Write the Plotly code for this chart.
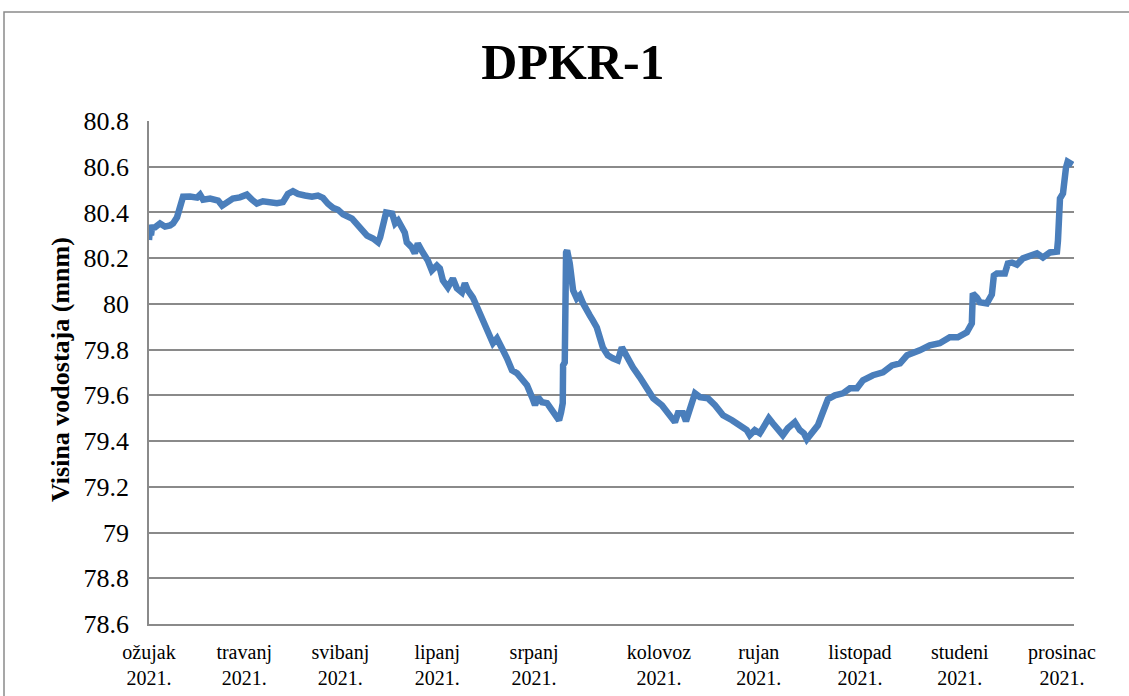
import plotly.graph_objects as go

# Day index from start of record (axis units)
dan = [
    0, 0.3, 0.6, 0.9, 1.8, 3.3, 4.8, 6.3, 7.2, 8.4,
    9.3, 10.2, 12.3, 14.4, 15.3, 16.2, 18.3, 20.7, 21.9, 23.4,
    25.1, 27.2, 29.3, 30.8, 32.3, 34.1, 36.2, 38.3, 40.1, 41.6,
    43.1, 44.6, 46.7, 48.8, 50.6, 52.1, 53.6, 55.1, 56.6, 57.2,
    58.1, 60.8, 63.2, 65.3, 67.1, 68.6, 69.2, 70.1, 71.0, 72.8,
    73.7, 74.6, 75.7, 76.6, 77.2, 78.7, 79.6, 80.5, 82.0, 83.5,
    84.7, 86.2, 87.1, 88.0, 89.5, 91.0, 92.2, 93.7, 94.6, 95.5,
    97.0, 98.5, 100.0, 101.2, 102.1, 103.0, 104.2, 105.1, 106.0, 107.2,
    108.7, 110.2, 111.7, 113.2, 114.7, 115.6, 116.5, 117.7, 119.2, 120.7,
    122.2, 122.8, 123.4, 123.9, 124.0, 124.5, 124.9, 125.2, 126.0, 127.0,
    128.1, 129.0, 130.0, 131.1, 132.0, 132.9, 134.1, 135.9, 137.4, 138.9,
    140.4, 141.6, 143.1, 144.9, 147.0, 149.1, 151.0, 153.6, 155.4, 157.5,
    158.4, 159.9, 160.8, 161.9, 163.5, 165.0, 167.4, 169.5, 171.9, 174.6,
    176.9, 179.0, 179.9, 181.4, 182.9, 184.4, 185.6, 186.8, 188.3, 189.8,
    191.3, 193.4, 194.9, 196.1, 197.0, 198.5, 200.3, 201.8, 203.3, 205.4,
    207.8, 209.9, 212.0, 213.8, 216.8, 219.8, 222.5, 224.9, 227.0, 230.8,
    233.8, 236.8, 239.8, 242.2, 244.9, 246.4, 246.7, 247.9, 248.8, 250.9,
    252.4, 253.0, 253.9, 256.3, 257.2, 258.4, 259.9, 261.7, 263.8, 265.9,
    267.7, 269.8, 271.9, 272.2, 272.8, 273.7, 274.6, 275.1, 276.6,
]

# Water level (m a.s.l.)
vodostaj = [
    80.28, 80.33, 80.30, 80.334, 80.335, 80.352, 80.338, 80.343, 80.352, 80.379,
    80.417, 80.469, 80.470, 80.465, 80.478, 80.456, 80.461, 80.452, 80.430, 80.445,
    80.461, 80.466, 80.478, 80.456, 80.439, 80.449, 80.445, 80.440, 80.445, 80.481,
    80.493, 80.481, 80.474, 80.469, 80.474, 80.464, 80.438, 80.420, 80.412, 80.400,
    80.392, 80.373, 80.334, 80.299, 80.286, 80.269, 80.290, 80.365, 80.400, 80.395,
    80.352, 80.365, 80.330, 80.312, 80.269, 80.247, 80.221, 80.264, 80.225, 80.190,
    80.146, 80.168, 80.155, 80.103, 80.072, 80.111, 80.068, 80.050, 80.090, 80.059,
    80.028, 79.980, 79.937, 79.897, 79.862, 79.828, 79.849, 79.828, 79.797, 79.762,
    79.710, 79.697, 79.675, 79.644, 79.592, 79.557, 79.592, 79.570, 79.566, 79.535,
    79.504, 79.491, 79.526, 79.566, 79.731, 79.744, 80.225, 80.234, 80.177, 80.059,
    80.024, 80.037, 80.002, 79.980, 79.950, 79.928, 79.897, 79.810, 79.775, 79.762,
    79.753, 79.810, 79.766, 79.723, 79.679, 79.631, 79.587, 79.557, 79.522, 79.483,
    79.522, 79.522, 79.487, 79.535, 79.609, 79.592, 79.587, 79.557, 79.513, 79.491,
    79.469, 79.448, 79.426, 79.448, 79.434, 79.469, 79.500, 79.478, 79.448, 79.426,
    79.456, 79.483, 79.448, 79.434, 79.408, 79.434, 79.469, 79.526, 79.583, 79.600,
    79.609, 79.631, 79.631, 79.666, 79.688, 79.701, 79.731, 79.740, 79.775, 79.797,
    79.819, 79.828, 79.854, 79.854, 79.876, 79.915, 80.046, 80.028, 80.007, 80.002,
    80.041, 80.124, 80.133, 80.133, 80.177, 80.181, 80.172, 80.199, 80.207, 80.221,
    80.203, 80.225, 80.229, 80.277, 80.461, 80.483, 80.596, 80.622, 80.609,
]

# X axis month labels and their positions (axis units)
mjeseci = ["ožujak<br>2021.", "travanj<br>2021.", "svibanj<br>2021.", "lipanj<br>2021.",
           "srpanj<br>2021.", "kolovoz<br>2021.", "rujan<br>2021.", "listopad<br>2021.",
           "studeni<br>2021.", "prosinac<br>2021."]
mjeseci_pos = [0, 28.5, 57.3, 86.3, 115.3, 152.7, 182.6, 212.9, 242.8, 273.4]

y_ticks = [78.6, 78.8, 79.0, 79.2, 79.4, 79.6, 79.8, 80.0, 80.2, 80.4, 80.6, 80.8]
y_labels = ["78.6", "78.8", "79", "79.2", "79.4", "79.6", "79.8", "80", "80.2", "80.4", "80.6", "80.8"]

assert len(dan) == len(vodostaj)

FONT = "Liberation Serif"
GRID = "#8a8a8a"

fig = go.Figure()
fig.add_trace(go.Scatter(
    x=dan, y=vodostaj, mode="lines",
    line=dict(color="#4a7ebb", width=6.5),
    showlegend=False, hoverinfo="x+y",
))

fig.update_layout(
    width=1129, height=696,
    margin=dict(l=149, r=55, t=121, b=72),
    paper_bgcolor="white", plot_bgcolor="white",
    font=dict(family=FONT, color="black"),
    title=dict(text="<b>DPKR-1</b>", x=0.5075, xanchor="center",
               y=1 - 61 / 696, yanchor="middle",
               font=dict(family=FONT, size=50, color="black")),
    xaxis=dict(
        range=[0, 277], showgrid=False, zeroline=False, automargin=False,
        tickmode="array", tickvals=mjeseci_pos, ticktext=mjeseci,
        ticks="", tickfont=dict(family=FONT, size=20, color="black"),
        ticklabelstandoff=9,
        showline=True, linecolor=GRID, linewidth=1.5,
    ),
    yaxis=dict(
        range=[78.6, 80.8], tickmode="array", tickvals=y_ticks, ticktext=y_labels,
        showgrid=True, gridcolor=GRID, gridwidth=1.5, zeroline=False, automargin=False,
        ticks="", tickfont=dict(family=FONT, size=26, color="black"),
        ticklabelstandoff=13,
        showline=True, linecolor=GRID, linewidth=1.5,
    ),
    annotations=[dict(
        text="<b>Visina vodostaja (mnm)</b>", textangle=-90,
        xref="paper", yref="paper", x=(60 - 149) / 925, y=(624 - 370) / 503,
        xanchor="center", yanchor="middle", showarrow=False,
        font=dict(family=FONT, size=26, color="black"),
    )],
    shapes=[dict(
        type="rect", xref="paper", yref="paper",
        x0=(4 - 149) / 925, x1=1.2, y0=-0.3, y1=(624 - 12) / 503,
        line=dict(color="#8a8a8a", width=1.5), fillcolor="rgba(0,0,0,0)", layer="below",
    )],
)

fig.write_html("out.html", config={"displayModeBar": False},
               post_script="document.body.style.margin='0px';")
